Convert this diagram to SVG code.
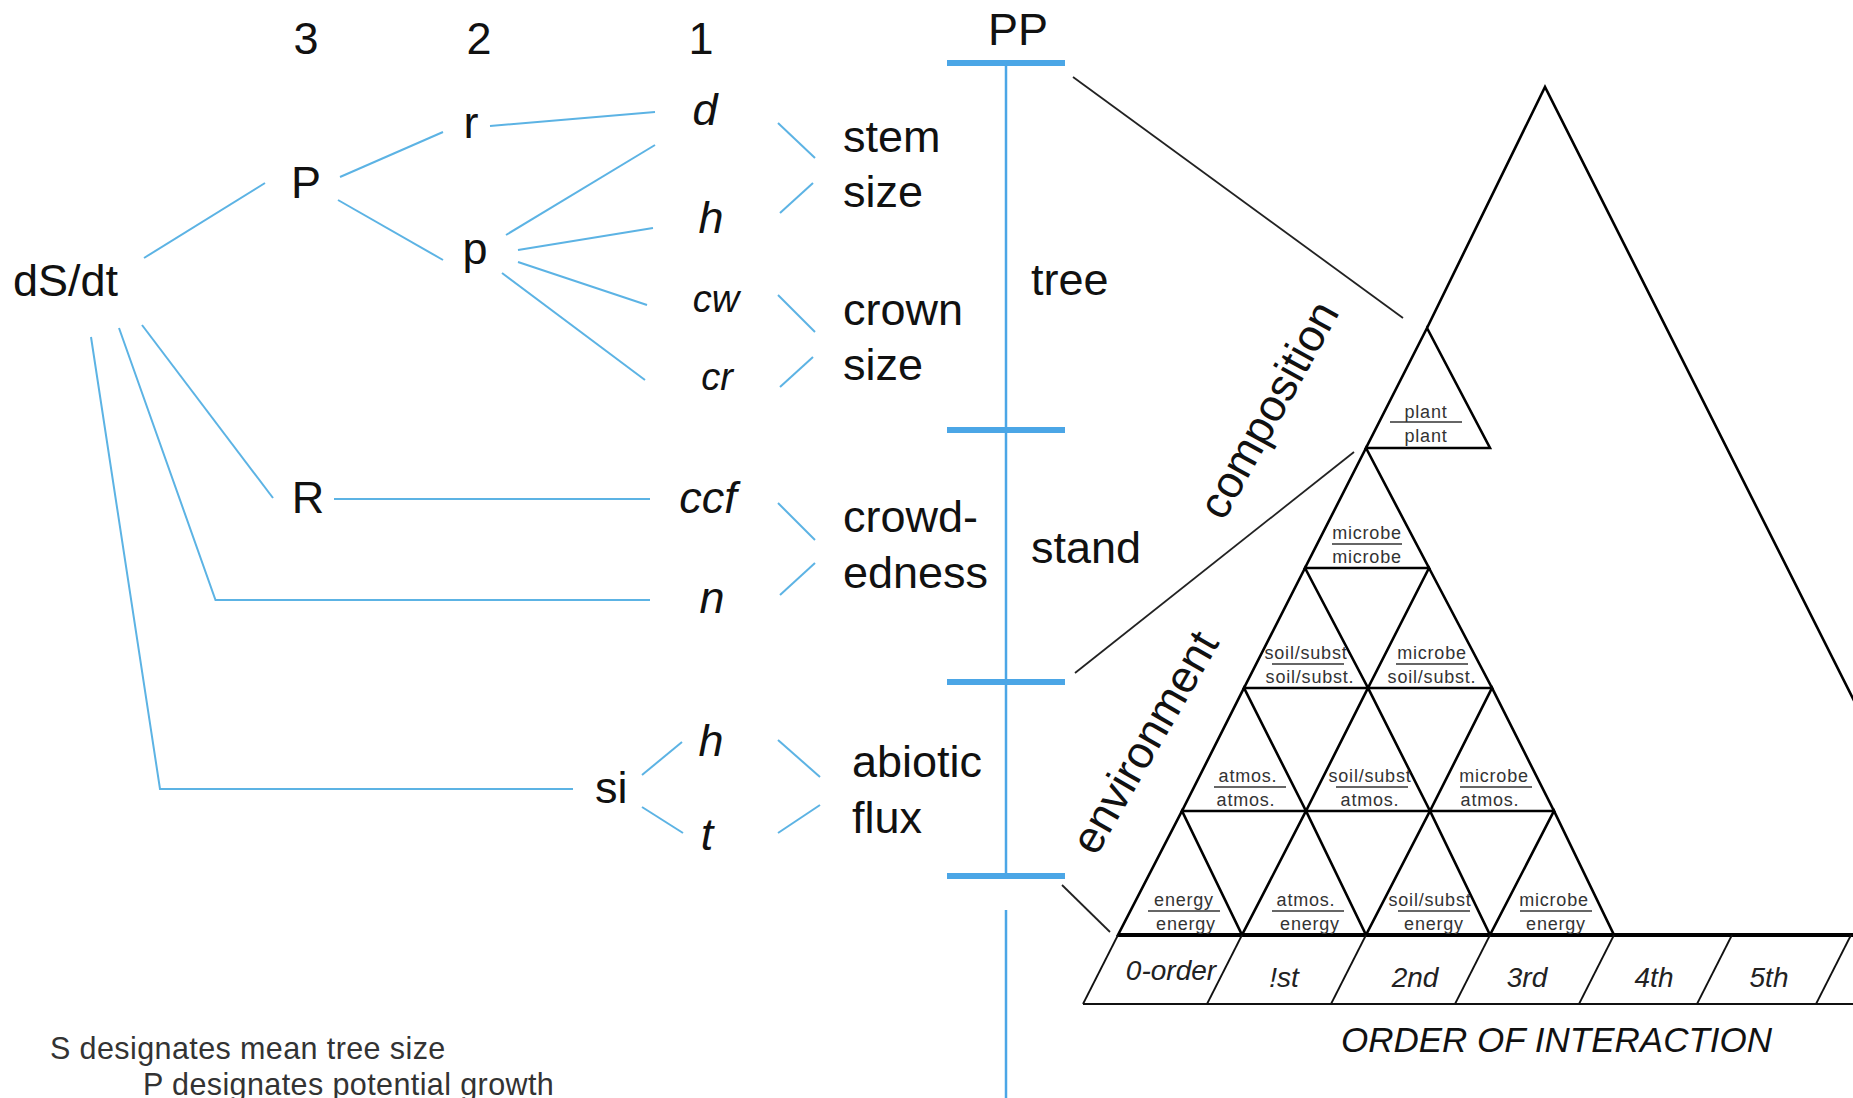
<svg xmlns="http://www.w3.org/2000/svg" width="1853" height="1098" viewBox="0 0 1853 1098">
<style>
.lbl{font-family:"Liberation Sans",Arial,sans-serif;font-size:45px;fill:#111}
.it{font-style:italic}
.sm{font-family:"Liberation Sans",Arial,sans-serif;font-size:18px;fill:#333;letter-spacing:0.8px;text-anchor:middle}
.ord{font-family:"Liberation Sans",Arial,sans-serif;font-size:28px;font-style:italic;fill:#222;text-anchor:middle}
.note{font-family:"Liberation Sans",Arial,sans-serif;font-size:30.5px;fill:#333;letter-spacing:0.4px}
.mid{text-anchor:middle}
.bl{stroke:#5cb3e4;stroke-width:2;fill:none}
.tick{stroke:#4ba6e6;stroke-width:6}
.axis{stroke:#4ba6e6;stroke-width:2.5}
.blk{stroke:#222;stroke-width:1.8;fill:none}
.tri{stroke:#000;stroke-width:2.6;fill:none;stroke-linejoin:miter}
.ul{stroke:#333;stroke-width:1.6}
.thin{stroke:#111;stroke-width:1.8;fill:none}
</style>

<g id="connectors">
  <line class="bl" x1="144" y1="258" x2="265" y2="183"/>
  <line class="bl" x1="340" y1="177" x2="443" y2="132"/>
  <line class="bl" x1="338" y1="200" x2="443" y2="260"/>
  <line class="bl" x1="490" y1="126" x2="655" y2="112"/>
  <line class="bl" x1="506" y1="235" x2="655" y2="145"/>
  <line class="bl" x1="518" y1="250" x2="653" y2="228"/>
  <line class="bl" x1="518" y1="262" x2="647" y2="305"/>
  <line class="bl" x1="502" y1="273" x2="645" y2="380"/>
  <line class="bl" x1="142" y1="325" x2="273" y2="498"/>
  <line class="bl" x1="334" y1="499" x2="650" y2="499"/>
  <polyline class="bl" points="119,328 215.5,600 650,600"/>
  <polyline class="bl" points="91,337 160,789 573,789"/>
  <line class="bl" x1="642" y1="775" x2="682" y2="742"/>
  <line class="bl" x1="642" y1="807" x2="683" y2="833"/>
  <line class="bl" x1="778" y1="123" x2="815" y2="158"/>
  <line class="bl" x1="780" y1="213" x2="813" y2="183"/>
  <line class="bl" x1="778" y1="295" x2="815" y2="332"/>
  <line class="bl" x1="780" y1="387" x2="813" y2="357"/>
  <line class="bl" x1="778" y1="503" x2="815" y2="540"/>
  <line class="bl" x1="780" y1="595" x2="815" y2="563"/>
  <line class="bl" x1="778" y1="740" x2="820" y2="777"/>
  <line class="bl" x1="778" y1="833" x2="820" y2="805"/>
  <line class="blk" x1="1073" y1="77" x2="1403" y2="318"/>
  <line class="blk" x1="1075" y1="673" x2="1354" y2="452"/>
  <line class="blk" x1="1062" y1="885" x2="1110" y2="932"/>
</g>

<g id="scale">
  <line class="axis" x1="1006" y1="63" x2="1006" y2="876"/>
  <line class="axis" x1="1006" y1="910" x2="1006" y2="1098"/>
  <line class="tick" x1="947" y1="63" x2="1065" y2="63"/>
  <line class="tick" x1="947" y1="430" x2="1065" y2="430"/>
  <line class="tick" x1="947" y1="682" x2="1065" y2="682"/>
  <line class="tick" x1="947" y1="876" x2="1065" y2="876"/>
  <text class="lbl mid" x="1018" y="45" font-size="44">PP</text>
  <text class="lbl" x="1031" y="295">tree</text>
  <text class="lbl" x="1031" y="563">stand</text>
</g>

<g id="levels">
  <text class="lbl mid" x="306" y="54">3</text>
  <text class="lbl mid" x="479" y="54">2</text>
  <text class="lbl mid" x="701" y="54">1</text>
</g>

<g id="node-dSdt"><text class="lbl" x="13" y="296">dS/dt</text></g>
<g id="node-P"><text class="lbl mid" x="306" y="198">P</text></g>
<g id="node-r"><text class="lbl mid" x="471" y="138">r</text></g>
<g id="node-p"><text class="lbl mid" x="475" y="264">p</text></g>
<g id="node-R"><text class="lbl mid" x="308" y="513">R</text></g>
<g id="node-si"><text class="lbl" x="595" y="803">si</text></g>
<g id="node-d"><text class="lbl it mid" x="705" y="125">d</text></g>
<g id="node-h1"><text class="lbl it mid" x="711" y="233">h</text></g>
<g id="node-cw"><text class="lbl it mid" x="716" y="312" style="font-size:38px">cw</text></g>
<g id="node-cr"><text class="lbl it mid" x="717" y="390" style="font-size:38px">cr</text></g>
<g id="node-ccf"><text class="lbl it mid" x="708" y="513">ccf</text></g>
<g id="node-n"><text class="lbl it mid" x="712" y="613">n</text></g>
<g id="node-h2"><text class="lbl it mid" x="711" y="756">h</text></g>
<g id="node-t"><text class="lbl it mid" x="707" y="850">t</text></g>
<g id="node-stem"><text class="lbl" x="843" y="152">stem</text><text class="lbl" x="843" y="207">size</text></g>
<g id="node-crown"><text class="lbl" x="843" y="325">crown</text><text class="lbl" x="843" y="380">size</text></g>
<g id="node-crowd"><text class="lbl" x="843" y="532">crowd-</text><text class="lbl" x="843" y="588">edness</text></g>
<g id="node-abiotic"><text class="lbl" x="852" y="777">abiotic</text><text class="lbl" x="852" y="833">flux</text></g>

<g id="triangle">
  <polyline class="tri" points="1427,328 1545,87 1972,935"/>
  <line x1="1118" y1="935" x2="1853" y2="935" stroke="#000" stroke-width="4"/>
  <polygon class="tri" points="1118,935 1242,935 1182,811"/>
  <polygon class="tri" points="1242,935 1366,935 1306,811"/>
  <polygon class="tri" points="1366,935 1490,935 1430,811"/>
  <polygon class="tri" points="1490,935 1614,935 1554,811"/>
  <polygon class="tri" points="1182,811 1306,811 1244,688"/>
  <polygon class="tri" points="1306,811 1430,811 1368,688"/>
  <polygon class="tri" points="1430,811 1554,811 1492,688"/>
  <polygon class="tri" points="1244,688 1368,688 1305,568"/>
  <polygon class="tri" points="1368,688 1492,688 1429,568"/>
  <polygon class="tri" points="1305,568 1429,568 1366,448"/>
  <polygon class="tri" points="1366,448 1490,448 1427,328"/>
</g>

<g id="cell-labels">
  <g><text class="sm" x="1184" y="906">energy</text><line class="ul" x1="1148" y1="911" x2="1220" y2="911"/><text class="sm" x="1186" y="930">energy</text></g>
  <g><text class="sm" x="1306" y="906">atmos.</text><line class="ul" x1="1272" y1="911" x2="1344" y2="911"/><text class="sm" x="1310" y="930">energy</text></g>
  <g><text class="sm" x="1430" y="906">soil/subst</text><line class="ul" x1="1398" y1="911" x2="1470" y2="911"/><text class="sm" x="1434" y="930">energy</text></g>
  <g><text class="sm" x="1554" y="906">microbe</text><line class="ul" x1="1520" y1="911" x2="1592" y2="911"/><text class="sm" x="1556" y="930">energy</text></g>

  <g><text class="sm" x="1248" y="782">atmos.</text><line class="ul" x1="1214" y1="787" x2="1286" y2="787"/><text class="sm" x="1246" y="806">atmos.</text></g>
  <g><text class="sm" x="1370" y="782">soil/subst</text><line class="ul" x1="1336" y1="787" x2="1408" y2="787"/><text class="sm" x="1370" y="806">atmos.</text></g>
  <g><text class="sm" x="1494" y="782">microbe</text><line class="ul" x1="1460" y1="787" x2="1532" y2="787"/><text class="sm" x="1490" y="806">atmos.</text></g>

  <g><text class="sm" x="1306" y="659">soil/subst</text><line class="ul" x1="1272" y1="664" x2="1344" y2="664"/><text class="sm" x="1310" y="683">soil/subst.</text></g>
  <g><text class="sm" x="1432" y="659">microbe</text><line class="ul" x1="1396" y1="664" x2="1468" y2="664"/><text class="sm" x="1432" y="683">soil/subst.</text></g>

  <g><text class="sm" x="1367" y="539">microbe</text><line class="ul" x1="1332" y1="544" x2="1402" y2="544"/><text class="sm" x="1367" y="563">microbe</text></g>

  <g><text class="sm" x="1426" y="418">plant</text><line class="ul" x1="1390" y1="422" x2="1462" y2="422"/><text class="sm" x="1426" y="442">plant</text></g>
</g>

<g id="axis-labels">
  <text class="lbl" transform="translate(1282,417) rotate(-61)" text-anchor="middle">composition</text>
  <text class="lbl" transform="translate(1158,750) rotate(-60)" text-anchor="middle">environment</text>
</g>

<g id="order-row">
  <line class="thin" x1="1083" y1="1004" x2="1853" y2="1004"/>
  <line class="thin" x1="1118" y1="935" x2="1083" y2="1004"/>
  <line class="thin" x1="1242" y1="935" x2="1207" y2="1004"/>
  <line class="thin" x1="1366" y1="935" x2="1331" y2="1004"/>
  <line class="thin" x1="1490" y1="935" x2="1455" y2="1004"/>
  <line class="thin" x1="1614" y1="935" x2="1579" y2="1004"/>
  <line class="thin" x1="1732" y1="935" x2="1697" y2="1004"/>
  <line class="thin" x1="1851" y1="935" x2="1816" y2="1004"/>
  <text class="ord" x="1171" y="980">0-order</text>
  <text class="ord" x="1284" y="987">!st</text>
  <text class="ord" x="1415" y="987">2nd</text>
  <text class="ord" x="1527" y="987">3rd</text>
  <text class="ord" x="1654" y="987">4th</text>
  <text class="ord" x="1769" y="987">5th</text>
  <text class="lbl it" x="1341" y="1052" style="font-size:35px">ORDER OF INTERACTION</text>
</g>

<g id="notes">
  <text class="note" x="50" y="1059">S designates mean tree size</text>
  <text class="note" x="143" y="1095">P designates potential growth</text>
</g>
</svg>
